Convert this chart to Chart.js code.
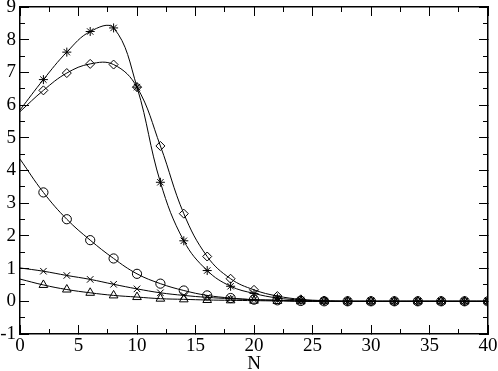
<!DOCTYPE html>
<html>
<head>
<meta charset="utf-8">
<script src="https://cdn.jsdelivr.net/npm/chart.js@4.4.0/dist/chart.umd.min.js"></script>
<style>
  html, body { margin: 0; padding: 0; background: #fff; }
  #wrap { width: 498px; height: 371px; }
</style>
</head>
<body>
<div id="wrap"><canvas id="myChart"></canvas></div>
<script>
// N values (even, 0..40); the first point carries only the curve, no marker
var nValues = [0, 2, 4, 6, 8, 10, 12, 14, 16, 18, 20, 22, 24, 26, 28, 30, 32, 34, 36, 38, 40];
var starVals = [5.85, 6.78, 7.62, 8.25, 8.36, 6.55, 3.64, 1.85, 0.94, 0.46, 0.24, 0.1, 0.04, 0.01, 0, 0, 0, 0, 0, 0, 0];
var diamondVals = [5.8, 6.45, 6.98, 7.26, 7.24, 6.55, 4.75, 2.68, 1.37, 0.69, 0.35, 0.16, 0.06, 0.02, 0, 0, 0, 0, 0, 0, 0];
var circleVals = [4.35, 3.33, 2.51, 1.87, 1.31, 0.84, 0.54, 0.33, 0.18, 0.1, 0.05, 0.03, 0.01, 0, 0, 0, 0, 0, 0, 0, 0];
var crossVals = [1.02, 0.92, 0.79, 0.67, 0.52, 0.38, 0.26, 0.18, 0.12, 0.08, 0.05, 0.03, 0.01, 0, 0, 0, 0, 0, 0, 0, 0];
var triangleVals = [0.68, 0.5, 0.36, 0.26, 0.18, 0.13, 0.08, 0.06, 0.04, 0.03, 0.02, 0.01, 0, 0, 0, 0, 0, 0, 0, 0, 0];
var xTicks = [0, 5, 10, 15, 20, 25, 30, 35, 40];
var yTicks = [-1, 0, 1, 2, 3, 4, 5, 6, 7, 8, 9];

var serif = { family: 'Liberation Serif, Times New Roman, serif', size: 19 };

function pts(vals) {
    var out = [];
    for (var i = 0; i < nValues.length; i++) {
        out.push({ x: nValues[i], y: vals[i] });
    }
    return out;
}

function radii(r) {
    var out = [];
    for (var i = 0; i < nValues.length; i++) out.push(i === 0 ? 0 : r);
    return out;
}

function series(vals, style, r) {
    return {
        data: pts(vals),
        borderColor: '#000',
        borderWidth: 1,
        pointStyle: style,
        pointRadius: radii(r),
        pointBorderColor: '#000',
        pointBackgroundColor: 'rgba(0,0,0,0)',
        pointBorderWidth: 1,
        tension: 0.4,
        fill: false
    };
}

// helper axes: only inward tick marks (and frame border), no labels, no size
function tickAxis(pos, min, max, step, len, border, weight) {
    return {
        type: 'linear', position: pos, min: min, max: max, weight: weight,
        ticks: { display: false, stepSize: step },
        grid: { drawOnChartArea: false, drawTicks: true, tickLength: -len, tickColor: '#000', tickWidth: 1 },
        border: { display: border, color: '#000', width: 1.5 },
        afterFit: function (s) {
            if (pos === 'top' || pos === 'bottom') s.height = 0; else s.width = 0;
            s.paddingTop = 0; s.paddingBottom = 0; s.paddingLeft = 0; s.paddingRight = 0;
        }
    };
}

var ctx = document.getElementById('myChart').getContext('2d');
var myChart = new Chart(ctx, {
    type: 'line',
    data: {
        datasets: [
            series(starVals, 'star', 4.5),
            series(diamondVals, 'rectRot', 4.5),
            series(circleVals, 'circle', 4.6),
            series(crossVals, 'crossRot', 4.6),
            series(triangleVals, 'triangle', 5)
        ]
    },
    options: {
        responsive: true,
        maintainAspectRatio: false,
        animation: false,
        layout: { padding: { top: 7, right: 10, left: 0, bottom: 0 } },
        plugins: { legend: { display: false }, tooltip: { enabled: false } },
        scales: {
            x: {
                type: 'linear', position: 'bottom', min: 0, max: 40, weight: 1,
                afterBuildTicks: function (s) { s.ticks = xTicks.map(function (v) { return { value: v }; }); },
                grid: { drawOnChartArea: false, drawTicks: true, tickLength: -9, tickColor: '#000' },
                border: { display: true, color: '#000', width: 1.5 },
                ticks: { color: '#000', padding: 10, maxRotation: 0, font: serif },
                title: { display: true, text: 'N', color: '#000', padding: { top: 0, bottom: -4 }, font: serif },
                afterFit: function (s) { s.height = 37; s.paddingLeft = 0; s.paddingRight = 0; }
            },
            xm: tickAxis('bottom', 0, 40, 2.5, 5, false, 0),
            xt: tickAxis('top', 0, 40, 5, 9, true, 1),
            xtm: tickAxis('top', 0, 40, 2.5, 5, false, 0),
            y: {
                type: 'linear', position: 'left', min: -1, max: 9, weight: 1,
                afterBuildTicks: function (s) { s.ticks = yTicks.map(function (v) { return { value: v }; }); },
                grid: { drawOnChartArea: false, drawTicks: true, tickLength: -9, tickColor: '#000' },
                border: { display: true, color: '#000', width: 1.5 },
                ticks: { color: '#000', padding: 13, font: serif },
                afterFit: function (s) { s.width = 20; s.paddingTop = 0; s.paddingBottom = 0; }
            },
            ym: tickAxis('left', -1, 9, 0.5, 5, false, 0),
            yr: tickAxis('right', -1, 9, 1, 9, true, 1),
            yrm: tickAxis('right', -1, 9, 0.5, 5, false, 0)
        }
    }
});
</script>
</body>
</html>
